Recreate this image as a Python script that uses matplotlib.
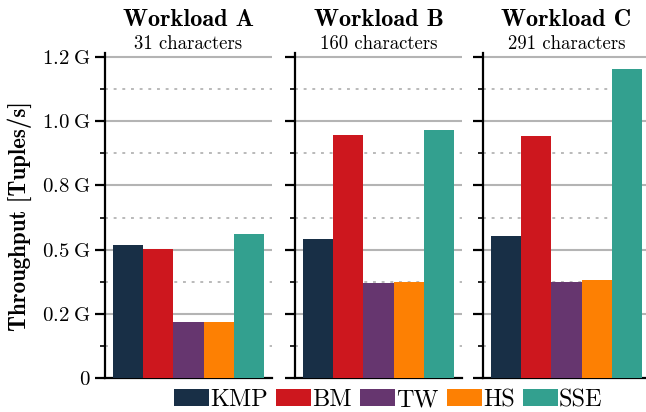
import numpy as np
import matplotlib
matplotlib.use('Agg')
import matplotlib.pyplot as plt
from matplotlib.ticker import FixedLocator, MultipleLocator

plt.rcParams['font.family'] = ['cmr10', 'DejaVu Serif']
plt.rcParams['mathtext.fontset'] = 'cm'
plt.rcParams['axes.unicode_minus'] = False

# throughput in G tuples/s
algos = ['KMP', 'BM', 'TW', 'HS', 'SSE']
colors = ['#182f46', '#cd171e', '#66366f', '#fd8003', '#33a08f']
workloads = ['Workload A', 'Workload B', 'Workload C']
lengths = ['31 characters', '160 characters', '291 characters']
tput_a = [0.518, 0.503, 0.219, 0.219, 0.561]
tput_b = [0.542, 0.946, 0.372, 0.376, 0.966]
tput_c = [0.553, 0.942, 0.376, 0.382, 1.203]
yticks = [0, 0.25, 0.5, 0.75, 1.0, 1.25]
ytick_labels = ['$0$', r'$0.2\;\mathrm{G}$', r'$0.5\;\mathrm{G}$',
                r'$0.8\;\mathrm{G}$', r'$1.0\;\mathrm{G}$', r'$1.2\;\mathrm{G}$']

W, H = 646, 412
fig = plt.figure(figsize=(W / 100, H / 100), dpi=100)

lefts = [105, 295, 483]
axw = 167
y0 = 378.4
axh = 325.4

x = np.arange(len(algos))
bars = None
for i, vals in enumerate([tput_a, tput_b, tput_c]):
    ax = fig.add_axes([lefts[i] / W, (H - y0) / H, axw / W, axh / H])
    b = ax.bar(x, vals, width=1.0, color=colors, zorder=3)
    if bars is None:
        bars = b
    ax.set_xlim(-0.765, 4.765)
    ax.set_ylim(0, 1.265)
    ax.yaxis.set_major_locator(FixedLocator(yticks))
    ax.yaxis.set_minor_locator(MultipleLocator(0.125))
    if i == 0:
        ax.set_yticklabels(ytick_labels, fontsize=15)
    else:
        ax.set_yticklabels([])
    ax.set_xticks([])
    ax.tick_params(axis='y', which='major', length=7.5, width=1.6, pad=3)
    ax.tick_params(axis='y', which='minor', length=3.8, width=1.2)
    ax.grid(axis='y', which='major', color='#b4b4b4', linewidth=1.5, zorder=0)
    ax.grid(axis='y', which='minor', color='#b4b4b4', linewidth=1.3,
            linestyle=(0, (1.6, 3.2)), zorder=0)
    for s in ['top', 'right']:
        ax.spines[s].set_visible(False)
    ax.spines['left'].set_linewidth(1.6)
    ax.spines['bottom'].set_linewidth(1.6)
    ax.text(0.5, (y0 - 26) / axh, workloads[i], transform=ax.transAxes,
            ha='center', va='baseline', fontfamily='cmb10', fontsize=17.5)
    ax.text(0.5, (y0 - 49.3) / axh, lengths[i], transform=ax.transAxes,
            ha='center', va='baseline', fontsize=13.5)

fig.text(20 / W, (H - 216.5) / H, 'Throughput [Tuples/s]', rotation=90,
         ha='center', va='center', fontfamily='cmb10', fontsize=16.5)

fig.legend(handles=list(bars.patches), labels=algos, ncol=5, frameon=False,
           loc='center', bbox_to_anchor=(388.5 / W, 12 / H), fontsize=17.5,
           handlelength=1.44, handleheight=0.70, handletextpad=0.05,
           columnspacing=0.33, borderpad=0, borderaxespad=0)

fig.savefig('out.png', dpi=100)
